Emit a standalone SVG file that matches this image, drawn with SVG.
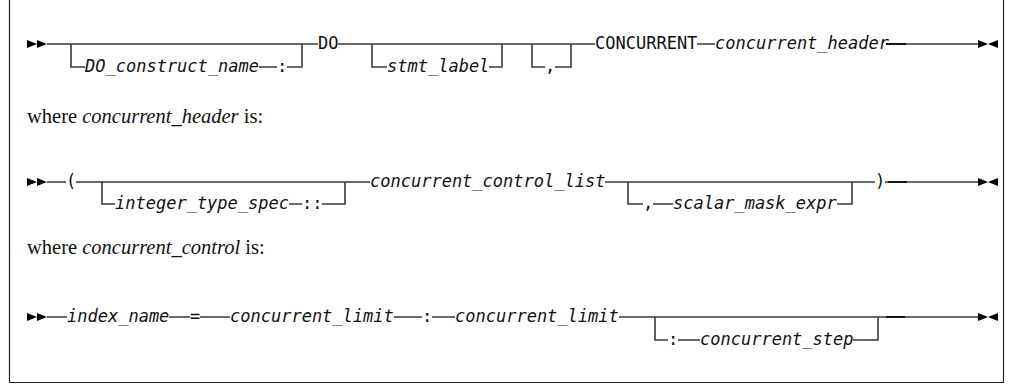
<svg xmlns="http://www.w3.org/2000/svg" width="1011" height="391" viewBox="0 0 1011 391">
<style>
.ln{fill:none;stroke:#3a3a3a;stroke-width:1.6}
.dk{fill:none;stroke:#111;stroke-width:1.9}
.fr{fill:none;stroke:#222;stroke-width:1.2}
.mk{fill:#000}
.m{font-family:"DejaVu Sans Mono","Liberation Mono",monospace;font-size:17px;fill:#111}
.i{font-style:italic}
.s{font-family:"Liberation Serif","DejaVu Serif",serif;font-size:20.5px;fill:#111}
</style>
<path class="fr" d="M9.5 0 V382.5 H1003.5 V0"/>
<g id="connectors">
<!-- line 1 -->
<path class="ln" d="M47 44 H318 M338 44 H595 M71 44 V67 H85 M259 67 H277 M287 67 H302 V44 M372 44 V67 H387 M489 67 H502 V44 M532 44 V67 H545 M555 67 H571 V44 M697 44 H715 M889 44 H978"/>
<path class="dk" d="M886 44 H906"/>
<!-- line 2 -->
<path class="ln" d="M47 182 H66 M76 182 H370 M102 182 V204 H115 M289 204 H302 M322 204 H345 V182 M605 182 H875 M628 182 V204 H643 M653 204 H673 M837 204 H852 V182 M885 182 H978"/>
<path class="dk" d="M888 182 H907"/>
<!-- line 3 -->
<path class="ln" d="M47 317 H67 M169 317 H190 M200 317 H230 M394 317 H422 M432 317 H455 M619 317 H978 M655 317 V340 H668 M678 340 H700 M853 340 H878 V317"/>
<path class="dk" d="M886 317 H905"/>
</g>
<g id="marks">
<path class="mk" d="M27 40 L37 44 L27 48 Z M37 40 L47 44 L37 48 Z"/>
<path class="mk" d="M978 40 L988 44 L978 48 Z M998 40 L988 44 L998 48 Z"/>
<path class="mk" d="M27 178 L37 182 L27 186 Z M37 178 L47 182 L37 186 Z"/>
<path class="mk" d="M978 178 L988 182 L978 186 Z M998 178 L988 182 L998 186 Z"/>
<path class="mk" d="M27 313 L37 317 L27 321 Z M37 313 L47 317 L37 321 Z"/>
<path class="mk" d="M978 313 L988 317 L978 321 Z M998 313 L988 317 L998 321 Z"/>
</g>
<g id="n-do-construct-name"><text class="m i" x="85" y="72">DO_construct_name</text></g>
<g id="n-colon1"><text class="m" x="277" y="72">:</text></g>
<g id="n-do"><text class="m" x="318" y="49">DO</text></g>
<g id="n-stmt-label"><text class="m i" x="387" y="72">stmt_label</text></g>
<g id="n-comma1"><text class="m" x="545" y="72">,</text></g>
<g id="n-concurrent"><text class="m" x="595" y="49">CONCURRENT</text></g>
<g id="n-concurrent-header"><text class="m i" x="715" y="49">concurrent_header</text></g>
<g id="t-where1"><text class="s" x="27" y="123">where <tspan font-style="italic">concurrent_header</tspan> is:</text></g>
<g id="n-lparen"><text class="m" x="66" y="187">(</text></g>
<g id="n-integer-type-spec"><text class="m i" x="115" y="209">integer_type_spec</text></g>
<g id="n-dcolon"><text class="m" x="302" y="209">::</text></g>
<g id="n-concurrent-control-list"><text class="m i" x="370" y="187">concurrent_control_list</text></g>
<g id="n-comma2"><text class="m" x="643" y="209">,</text></g>
<g id="n-scalar-mask-expr"><text class="m i" x="673" y="209">scalar_mask_expr</text></g>
<g id="n-rparen"><text class="m" x="875" y="187">)</text></g>
<g id="t-where2"><text class="s" x="27" y="254">where <tspan font-style="italic">concurrent_control</tspan> is:</text></g>
<g id="n-index-name"><text class="m i" x="67" y="322">index_name</text></g>
<g id="n-eq"><text class="m" x="190" y="322">=</text></g>
<g id="n-concurrent-limit1"><text class="m i" x="230" y="322">concurrent_limit</text></g>
<g id="n-colon2"><text class="m" x="422" y="322">:</text></g>
<g id="n-concurrent-limit2"><text class="m i" x="455" y="322">concurrent_limit</text></g>
<g id="n-colon3"><text class="m" x="668" y="345">:</text></g>
<g id="n-concurrent-step"><text class="m i" x="700" y="345">concurrent_step</text></g>
</svg>
